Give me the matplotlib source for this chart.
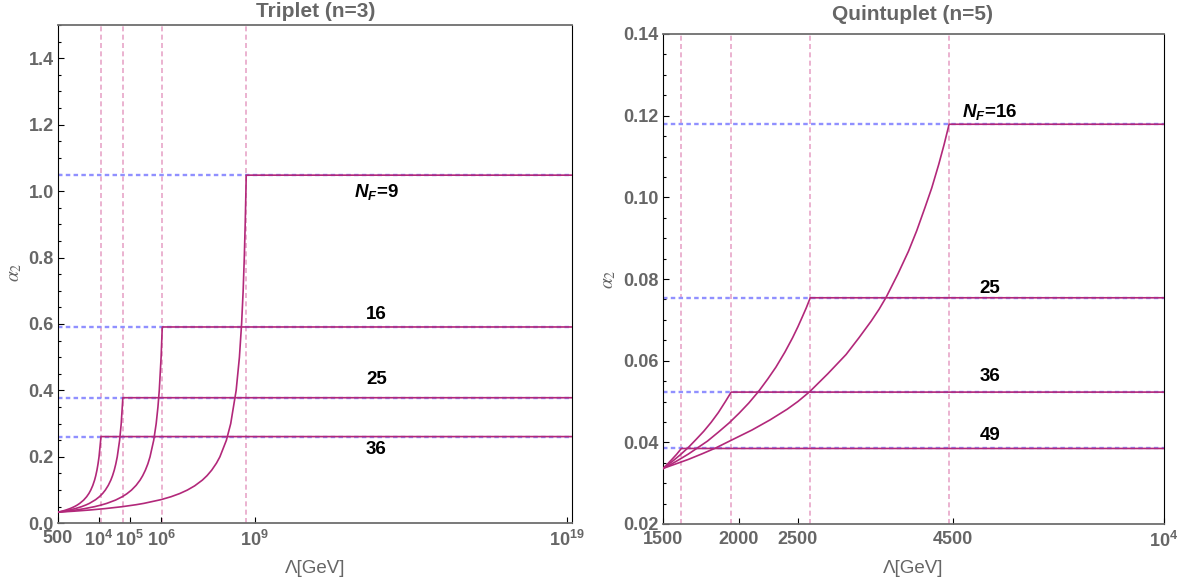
import matplotlib
matplotlib.use("Agg")
import matplotlib.pyplot as plt
from matplotlib.ticker import FixedLocator, MultipleLocator, NullLocator

plt.rcParams['font.family'] = ['Liberation Sans', 'DejaVu Sans']
plt.rcParams['mathtext.fontset'] = 'custom'
plt.rcParams['mathtext.rm'] = 'Liberation Sans:bold'
plt.rcParams['mathtext.bf'] = 'Liberation Sans:bold'
plt.rcParams['mathtext.it'] = 'Liberation Sans:italic:bold'

# ---- Triplet (n=3): thresholds and running curves
tri_nf = [9, 16, 25, 36]
tri_lam_th = [5.4e8, 1.1e6, 6.0e4, 1.19e4]
tri_alpha_th = [1.048, 0.591, 0.378, 0.261]

tri_lam_9 = [500, 1580, 5150, 1.6e4, 5.7e4, 1.6e5, 2.83e5, 1e6, 2.1e6, 4e6, 6.98e6, 1.2e7,
             2.12e7, 3e7, 4.23e7, 6e7, 7.73e7, 1.25e8, 1.72e8, 2.57e8, 3.27e8, 3.84e8,
             4.31e8, 4.69e8, 5.01e8, 5.29e8, 5.4e8]
tri_a_9 = [0.0335, 0.0364, 0.04, 0.0442, 0.05, 0.0560, 0.06, 0.0712, 0.08, 0.0896, 0.10, 0.1127,
           0.13, 0.1435, 0.16, 0.181, 0.20, 0.25, 0.30, 0.40, 0.50, 0.60,
           0.70, 0.80, 0.90, 1.0, 1.048]
tri_lam_16 = [500, 1000, 1880, 3500, 7380, 1.2e4, 18350, 3.5e4, 57300, 8e4, 113500, 1.6e5,
              213400, 2.6e5, 316300, 3.8e5, 445000, 585000, 702000, 799000, 881600,
              1010000, 1100000]
tri_a_16 = [0.0335, 0.0366, 0.04, 0.0440, 0.05, 0.0549, 0.06, 0.0699, 0.08, 0.0887, 0.10, 0.1144,
            0.13, 0.1435, 0.16, 0.179, 0.20, 0.25, 0.30, 0.35, 0.40,
            0.50, 0.591]
tri_lam_25 = [500, 800, 1170, 1800, 2830, 4000, 5090, 8000, 10590, 13500, 16440, 20500,
              24680, 28000, 31810, 35500, 39630, 47250, 53140, 60000]
tri_a_25 = [0.0335, 0.0368, 0.04, 0.0443, 0.05, 0.0555, 0.06, 0.0710, 0.08, 0.0899, 0.10, 0.1144,
            0.13, 0.1433, 0.16, 0.178, 0.20, 0.25, 0.30, 0.378]
tri_lam_36 = [500, 700, 900, 1250, 1660, 2000, 2490, 3300, 4140, 4900, 5610, 6500,
              7440, 8100, 8860, 9600, 10330, 11650, 11900]
tri_a_36 = [0.0335, 0.0369, 0.04, 0.0448, 0.05, 0.0541, 0.06, 0.0696, 0.08, 0.0899, 0.10, 0.1137,
            0.13, 0.143, 0.16, 0.179, 0.20, 0.25, 0.261]

tri_xticks = [500, 1e4, 1e5, 1e6, 1e9, 1e19]
tri_xlabels = ['500', '$10^{4}$', '$10^{5}$', '$10^{6}$', '$10^{9}$', '$10^{19}$']

# ---- Quintuplet (n=5)
qui_nf = [16, 25, 36, 49]
qui_lam_th = [4432, 2620, 1942, 1608]
qui_alpha_th = [0.1179, 0.0754, 0.0523, 0.0385]

qui_lam_16 = [1500, 1570, 1650, 1740, 1830, 1960, 2100, 2250, 2400, 2500, 2614, 2800,
              3000, 3150, 3300, 3400, 3494, 3650, 3800, 3920, 4045, 4150, 4262, 4350, 4432]
qui_a_16 = [0.0336, 0.03465, 0.0358, 0.0372, 0.0386, 0.0408, 0.0430, 0.0455, 0.0481, 0.0500,
            0.0524, 0.0568, 0.0615, 0.0656, 0.0697, 0.0726, 0.0756, 0.0812, 0.0868, 0.0918,
            0.0975, 0.1023, 0.1081, 0.1130, 0.1179]
qui_lam_25 = [1500, 1550, 1600, 1650, 1700, 1775, 1850, 1925, 2000, 2075, 2155, 2230,
              2300, 2380, 2450, 2500, 2540, 2580, 2620]
qui_a_25 = [0.0336, 0.0347, 0.0359, 0.0371, 0.0384, 0.0403, 0.0425, 0.0447, 0.0471, 0.0496,
            0.0525, 0.0555, 0.0584, 0.0621, 0.0656, 0.0683, 0.0706, 0.0729, 0.0754]
qui_lam_36 = [1500, 1550, 1600, 1650, 1700, 1750, 1800, 1850, 1900, 1942]
qui_a_36 = [0.0336, 0.0352, 0.0369, 0.0387, 0.0407, 0.0427, 0.0449, 0.0473, 0.0500, 0.0523]
qui_lam_49 = [1500, 1525, 1550, 1580, 1608]
qui_a_49 = [0.0336, 0.03465, 0.03575, 0.0371, 0.0385]

qui_xticks = [1500, 2000, 2500, 4500, 1e4]
qui_xlabels = ['1500', '2000', '2500', '4500', '$10^{4}$']

MAG = '#b2287a'
BLUE = '#9090ff'
PINK = '#e8a6c8'
GRAY = '#666666'


def draw_panel(ax, lam_th, a_th, curves, xmax):
    for lam in lam_th:
        ax.axvline(lam, color=PINK, lw=1.2, dashes=(3.0, 2.0), zorder=1)
    for a in a_th:
        ax.axhline(a, color=BLUE, lw=1.7, dashes=(1.9, 1.4), zorder=2)
    for (x, y), a in zip(curves, a_th):
        ax.plot(list(x) + [xmax], list(y) + [a], color=MAG, lw=1.2, zorder=3)


def style_axes(ax, xticks, xlabels):
    ax.set_xscale('log')
    ax.xaxis.set_major_locator(FixedLocator(xticks))
    ax.xaxis.set_minor_locator(NullLocator())
    ax.set_xticklabels(xlabels)
    ax.tick_params(which='both', direction='in', top=False, right=False,
                   labelcolor=GRAY, labelsize=13, color='black', width=0.8)
    ax.tick_params(which='major', length=4, pad=3)
    ax.tick_params(axis='x', which='major', pad=5)
    ax.tick_params(which='minor', length=2.3)
    for lab in ax.get_xticklabels() + ax.get_yticklabels():
        lab.set_fontweight('bold')
    for side in ['left', 'right']:
        ax.spines[side].set_color('black')
        ax.spines[side].set_linewidth(0.8)
    for side in ['top', 'bottom']:
        ax.spines[side].set_color('#6e6e6e')
        ax.spines[side].set_linewidth(1.3)
    ax.set_xlabel('Λ[GeV]', color=GRAY, fontsize=13.5, va='center')
    ax.xaxis.set_label_coords(0.5, -0.09)
    ax.set_ylabel(r'$\alpha_2$', color=GRAY, fontsize=14, math_fontfamily='stix', va='center')


fig = plt.figure(figsize=(11.88, 5.86), dpi=100)

# left panel
ax1 = fig.add_axes([58 / 1188, 62.7 / 586, 514 / 1188, 498.3 / 586])
draw_panel(ax1, tri_lam_th, tri_alpha_th,
           [(tri_lam_9, tri_a_9), (tri_lam_16, tri_a_16),
            (tri_lam_25, tri_a_25), (tri_lam_36, tri_a_36)], 1.5e19)
ax1.set_xlim(500, 1.5e19)
ax1.set_ylim(0, 1.5)
ax1.yaxis.set_major_locator(MultipleLocator(0.2))
ax1.yaxis.set_minor_locator(MultipleLocator(0.05))
style_axes(ax1, tri_xticks, tri_xlabels)
ax1.yaxis.set_label_coords(-0.082, 0.504)

tri_label_y = [0.998, 0.630, 0.432, 0.222]
for nf, ly in zip(tri_nf, tri_label_y):
    txt = '$N_F$=%d' % nf if nf == 9 else str(nf)
    ax1.text(8e12, ly, txt, ha='center', va='center', fontsize=13.5, fontweight='bold')

# right panel
ax2 = fig.add_axes([663 / 1188, 62 / 586, 501 / 1188, 490 / 586])
draw_panel(ax2, qui_lam_th, qui_alpha_th,
           [(qui_lam_16, qui_a_16), (qui_lam_25, qui_a_25),
            (qui_lam_36, qui_a_36), (qui_lam_49, qui_a_49)], 1e4)
ax2.set_xlim(1500, 1e4)
ax2.set_ylim(0.02, 0.14)
ax2.yaxis.set_major_locator(MultipleLocator(0.02))
ax2.yaxis.set_minor_locator(MultipleLocator(0.005))
style_axes(ax2, qui_xticks, qui_xlabels)
ax2.yaxis.set_label_coords(-0.106, 0.5)

qui_label_y = [0.1209, 0.0776, 0.0562, 0.0416]
for nf, ly in zip(qui_nf, qui_label_y):
    txt = '$N_F$=%d' % nf if nf == 16 else str(nf)
    ax2.text(5170, ly, txt, ha='center', va='center', fontsize=13.5, fontweight='bold')

fig.text(316 / 1188, 1 - 17 / 586, 'Triplet (n=3)', ha='center', va='baseline',
         fontsize=15, fontweight='bold', color=GRAY)
fig.text(913 / 1188, 1 - 20 / 586, 'Quintuplet (n=5)', ha='center', va='baseline',
         fontsize=15, fontweight='bold', color=GRAY)

fig.savefig('out.png', dpi=100)
